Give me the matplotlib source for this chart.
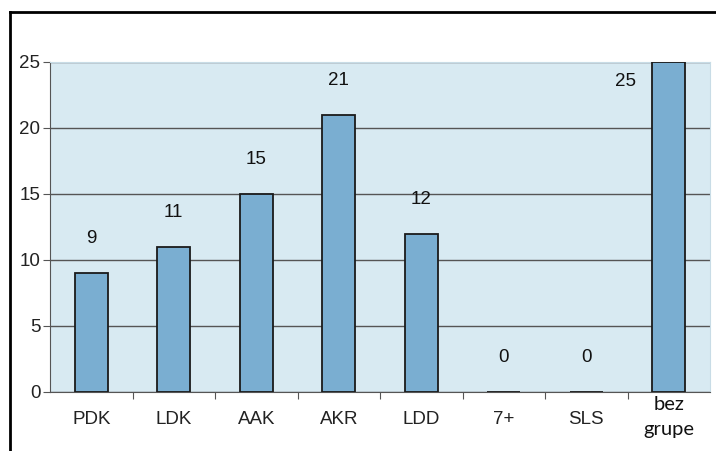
import matplotlib.pyplot as plt
from matplotlib.lines import Line2D

categories = ["PDK", "LDK", "AAK", "AKR", "LDD", "7+", "SLS", "bez\ngrupe"]
values = [9, 11, 15, 21, 12, 0, 0, 25]

plt.rcParams['font.family'] = ['Liberation Sans', 'DejaVu Sans']

fig = plt.figure(figsize=(7.16, 4.51), dpi=100)
ax = fig.add_axes([50 / 716, 1 - 392 / 451, 660 / 716, 330 / 451])

x = list(range(len(categories)))
ax.set_facecolor("#d8eaf2")
ax.bar(x, values, width=0.4, color="#7aaed1", edgecolor="#1a1a1a", linewidth=1.3, zorder=3)

ax.set_xlim(-0.5, len(categories) - 0.5)
ax.set_ylim(0, 25)
ax.set_yticks([0, 5, 10, 15, 20, 25])
ax.grid(axis="y", color="#555555", linewidth=1.0, zorder=1)
ax.set_axisbelow(True)

# category boundary ticks, labels centered on bars
ax.set_xticks([i + 0.5 for i in x[:-1]])
ax.set_xticklabels([])
ax.set_xticks(x, minor=True)
ax.set_xticklabels(categories[:-1] + [""], minor=True, fontsize=13.5, color="#222222")
ax.tick_params(axis="x", which="minor", length=0, pad=14)
ax.tick_params(axis="x", which="major", length=5, color="#555555")
ax.tick_params(axis="y", length=5, color="#555555", labelsize=13.5, labelcolor="#222222", pad=2)
ax.text(x[-1], -0.3, categories[-1], ha="center", va="top", fontsize=14.5,
        family=["Lato", "DejaVu Sans"], linespacing=1.6, color="#111111")

for s in ["top", "right"]:
    ax.spines[s].set_color("#c8dce6")
for s in ["left", "bottom"]:
    ax.spines[s].set_color("#555555")

for i, v in enumerate(values):
    if i == len(values) - 1:
        ax.text(i - 0.52, v - 1.5, str(v), ha="center", va="center", fontsize=13.5, color="#111111")
    else:
        ax.text(i, v + 2.6 if v > 0 else 2.6, str(v), ha="center", va="center",
                fontsize=13.5, color="#111111")

# outer frame lines
fig.add_artist(Line2D([10 / 716, 10 / 716], [0, 1 - 12 / 451], transform=fig.transFigure, color="black", lw=2))
fig.add_artist(Line2D([10 / 716, 1], [1 - 12 / 451, 1 - 12 / 451], transform=fig.transFigure, color="black", lw=2))

fig.savefig("out.png", dpi=100)
